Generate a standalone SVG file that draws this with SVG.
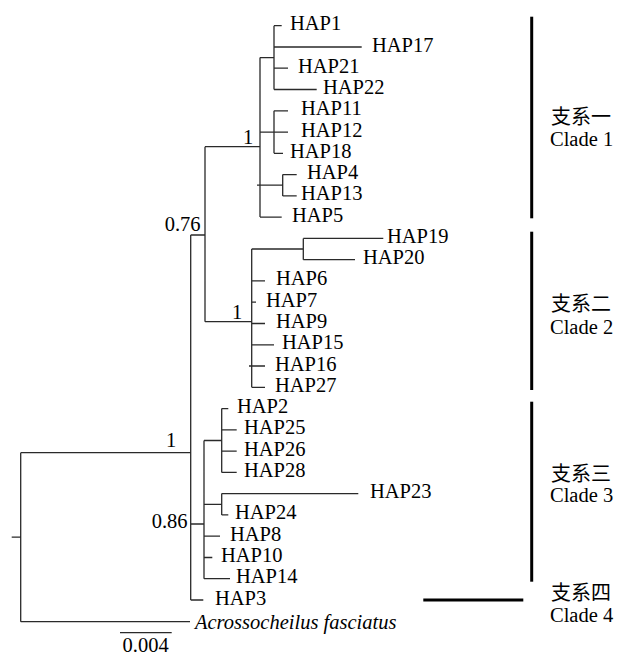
<svg xmlns="http://www.w3.org/2000/svg" width="626" height="657" viewBox="0 0 626 657">
<style>
.t{font-family:"Liberation Serif","Times New Roman",serif;font-size:20.5px;fill:#000}
.i{font-style:italic}
.e{text-anchor:end}
.cj{font-family:"Liberation Serif","Noto Sans CJK SC",serif;font-size:20px;fill:#000}
.br{fill:none;stroke:#2a2a2a;stroke-width:1.3}
.bar{fill:none;stroke:#000;stroke-width:3}
</style>
<rect width="626" height="657" fill="#fff"/>
<g id="connectors">
<path class="br" d="M11.7 537.2H20.7M20.7 452.7V621.7M20.7 452.7H190.7M20.7 621.7H190
M190.7 235V600M190.7 235H205M190.7 524H204M190.7 600H203.3
M205 146.7V321.7M205 146.7H260M205 321.7H251.7
M260 57.6V217.1M260 57.6H274M274 25.7V89.5M274 25.7H281.7M274 47H361.7M274 68.2H288M274 89.5H316.7
M260 132.1H288M274 110.8V153.3M274 110.8H288M274 153.3H283
M257 185.2H282.7M282.7 174.6V195.9M282.7 174.6H296.7M282.7 195.9H296.7
M260 217.1H281.7
M251.7 249V387.3M251.7 249H303.3M303.3 238.4V259.7M303.3 238.4H383.3M303.3 259.7H355
M251.7 280.9H265M251.7 302.2H256M251.7 323.5H265M251.7 344.8H274M249 366H265M251.7 387.3H265
M204 440.5V578.7M204 440.5H221.7M221.7 408.6V472.4M221.7 408.6H228.3M221.7 429.8H236.7M221.7 451.1H236.7M221.7 472.4H236.7
M204 504.3H221.7M221.7 493.6V514.9M221.7 493.6H358.3M221.7 514.9H228.3
M204 536.2H220M204 557.5H212.3M204 578.7H230"/>
<path class="br" d="M120 632.7H171.7"/>
</g>
<g id="support">
<text class="t" x="166" y="447">1</text>
<text class="t e" x="200.5" y="231">0.76</text>
<text class="t" x="243" y="144">1</text>
<text class="t" x="232" y="319">1</text>
<text class="t e" x="187.5" y="527.5">0.86</text>
</g>
<g id="HAP1"><text class="t" x="290" y="30.2">HAP1</text></g>
<g id="HAP17"><text class="t" x="372" y="51.5">HAP17</text></g>
<g id="HAP21"><text class="t" x="298" y="72.7">HAP21</text></g>
<g id="HAP22"><text class="t" x="323" y="94">HAP22</text></g>
<g id="HAP11"><text class="t" x="301" y="115.3">HAP11</text></g>
<g id="HAP12"><text class="t" x="301" y="136.6">HAP12</text></g>
<g id="HAP18"><text class="t" x="290" y="157.8">HAP18</text></g>
<g id="HAP4"><text class="t" x="307" y="179.1">HAP4</text></g>
<g id="HAP13"><text class="t" x="301" y="200.4">HAP13</text></g>
<g id="HAP5"><text class="t" x="292" y="221.6">HAP5</text></g>
<g id="HAP19"><text class="t" x="387" y="242.9">HAP19</text></g>
<g id="HAP20"><text class="t" x="363" y="264.2">HAP20</text></g>
<g id="HAP6"><text class="t" x="276" y="285.4">HAP6</text></g>
<g id="HAP7"><text class="t" x="266" y="306.7">HAP7</text></g>
<g id="HAP9"><text class="t" x="276" y="328">HAP9</text></g>
<g id="HAP15"><text class="t" x="282" y="349.3">HAP15</text></g>
<g id="HAP16"><text class="t" x="275" y="370.5">HAP16</text></g>
<g id="HAP27"><text class="t" x="275" y="391.8">HAP27</text></g>
<g id="HAP2"><text class="t" x="237" y="413.1">HAP2</text></g>
<g id="HAP25"><text class="t" x="244" y="434.3">HAP25</text></g>
<g id="HAP26"><text class="t" x="244" y="455.6">HAP26</text></g>
<g id="HAP28"><text class="t" x="244" y="476.9">HAP28</text></g>
<g id="HAP23"><text class="t" x="370" y="498.1">HAP23</text></g>
<g id="HAP24"><text class="t" x="235" y="519.4">HAP24</text></g>
<g id="HAP8"><text class="t" x="230" y="540.7">HAP8</text></g>
<g id="HAP10"><text class="t" x="221" y="562">HAP10</text></g>
<g id="HAP14"><text class="t" x="236" y="583.2">HAP14</text></g>
<g id="HAP3"><text class="t" x="215" y="604.5">HAP3</text></g>
<g id="outgroup"><text class="t i" x="195" y="629">Acrossocheilus fasciatus</text></g>
<g id="scale"><text class="t" x="122.5" y="652">0.004</text></g>
<g id="clade1"><path class="bar" d="M531.7 16.7V218.3"/><text class="cj" x="551" y="124">支系一</text><text class="t" x="550" y="146">Clade 1</text></g>
<g id="clade2"><path class="bar" d="M531.7 231.7V390"/><text class="cj" x="551" y="311">支系二</text><text class="t" x="550" y="334">Clade 2</text></g>
<g id="clade3"><path class="bar" d="M531.7 401.7V581.7"/><text class="cj" x="551" y="481">支系三</text><text class="t" x="550" y="502">Clade 3</text></g>
<g id="clade4"><path class="bar" d="M423.3 600H523.3"/><text class="cj" x="551" y="600">支系四</text><text class="t" x="550" y="622">Clade 4</text></g>
</svg>
